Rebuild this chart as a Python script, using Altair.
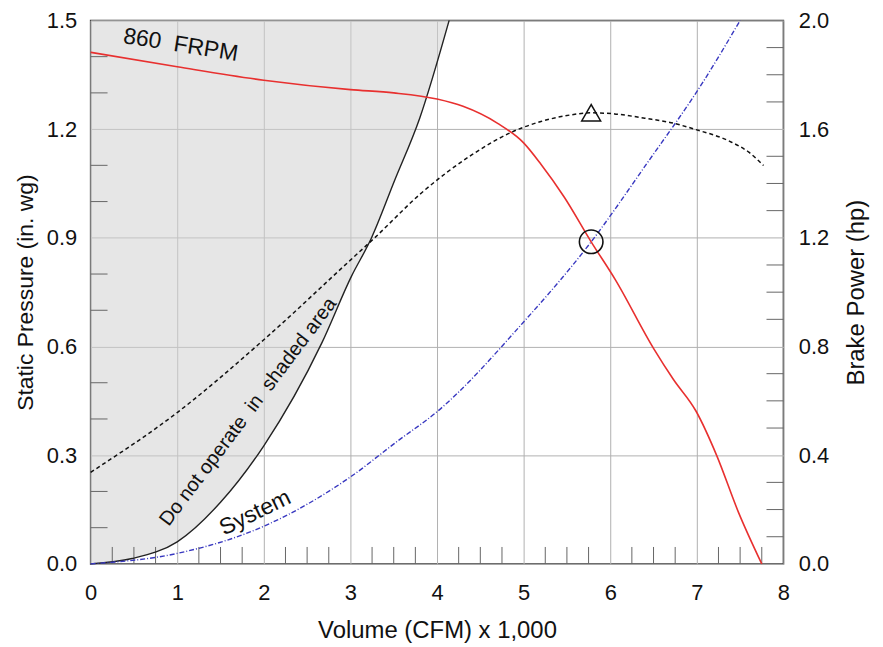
import altair as alt
import pandas as pd

# ---------------- data ----------------
# Fan curve, 860 FRPM (static pressure, in. wg) vs volume (CFM x 1,000)
fan_x = [0.0, 1.0, 2.0, 3.0, 3.5, 4.0, 4.3, 4.7, 5.0, 5.2, 5.47, 5.78, 6.06, 6.5, 6.73, 6.99, 7.23, 7.48, 7.75]
fan_sp = [1.412, 1.372, 1.335, 1.309, 1.300, 1.283, 1.263, 1.216, 1.162, 1.103, 1.012, 0.889, 0.784, 0.595, 0.509, 0.422, 0.299, 0.143, 0.0]

# Brake power (hp) vs volume
bhp_x = [0.0, 1.0, 2.0, 3.0, 3.28, 3.82, 4.4, 4.87, 5.2, 5.54, 5.78, 6.05, 6.4, 6.74, 6.97, 7.38, 7.6, 7.77]
bhp_hp = [0.337, 0.557, 0.825, 1.118, 1.20, 1.365, 1.505, 1.590, 1.628, 1.652, 1.660, 1.656, 1.64, 1.621, 1.60, 1.555, 1.515, 1.466]

# System curve (static pressure, in. wg)
sys_x = [0.0, 1.0, 2.0, 3.0, 3.55, 3.99, 4.99, 5.78, 6.42, 7.08, 7.5]
sys_sp = [0.0, 0.029, 0.104, 0.24, 0.34, 0.418, 0.665, 0.889, 1.104, 1.333, 1.5]

# Boundary of the "do not operate" shaded region (in. wg)
bnd_x = [0.0, 0.48, 1.0, 1.5, 2.0, 2.67, 3.01, 3.24, 3.51, 3.8, 4.14]
bnd_sp = [0.0, 0.015, 0.061, 0.17, 0.326, 0.61, 0.793, 0.898, 1.058, 1.23, 1.5]

# Operating point markers
op_x = [5.78]
op_sp = [0.889]
op_hp = [1.660]

# Axes
x_ticks = [0, 1, 2, 3, 4, 5, 6, 7, 8]
sp_ticks = [0.0, 0.3, 0.6, 0.9, 1.2, 1.5]
hp_ticks = [0.0, 0.4, 0.8, 1.2, 1.6, 2.0]
x_minor = [0.25, 0.5, 0.75, 1.25, 1.5, 1.75, 2.25, 2.5, 2.75, 3.25, 3.5, 3.75,
           4.25, 4.5, 4.75, 5.25, 5.5, 5.75, 6.25, 6.5, 6.75, 7.25, 7.5, 7.75]
sp_minor = [0.1, 0.2, 0.4, 0.5, 0.7, 0.8, 1.0, 1.1, 1.3, 1.4]
hp_minor = [0.1, 0.2, 0.3, 0.5, 0.6, 0.7, 0.9, 1.0, 1.1, 1.3, 1.4, 1.5, 1.7, 1.8, 1.9]

# Annotations
lbl_fan = ["860\u00a0 FRPM"]
lbl_fan_x, lbl_fan_y = [1.04], [1.432]
lbl_bnd = ["Do not operate\u00a0 in\u00a0 shaded area"]
lbl_bnd_x, lbl_bnd_y = [1.82], [0.42]
lbl_sys = ["System"]
lbl_sys_x, lbl_sys_y = [1.90], [0.141]

# ---------------- chart ----------------
W, H = 696, 546
FONT = "Liberation Sans"
SP_MAX, HP_MAX = 1.5, 2.0

xs = alt.Scale(domain=[0, 8], nice=False, zero=False)
sps = alt.Scale(domain=[0, SP_MAX], nice=False)
hps = alt.Scale(domain=[0, HP_MAX], nice=False)

fan_df = pd.DataFrame({"x": fan_x, "y": fan_sp})
bhp_df = pd.DataFrame({"x": bhp_x, "y": bhp_hp})
sys_df = pd.DataFrame({"x": sys_x, "y": sys_sp})
bnd_df = pd.DataFrame({"x": bnd_x, "y": bnd_sp})

x_axis = alt.Axis(values=x_ticks, format="d", title="Volume (CFM) x 1,000", grid=True,
                  gridColor="#b0b0b0", gridWidth=1, ticks=False, tickSize=0,
                  domain=False, labelFlush=False, labelFont=FONT, labelFontSize=22,
                  labelColor="#111", labelPadding=19, titleFont=FONT, titleFontSize=24,
                  titleFontWeight="normal", titleColor="#111", titlePadding=15)
sp_axis = alt.Axis(orient="left", values=sp_ticks, format=".1f",
                   title="Static Pressure (in. wg)", grid=True, gridColor="#b0b0b0",
                   gridWidth=1, ticks=False, tickSize=0, domain=False, labelFlush=False,
                   labelFont=FONT, labelFontSize=22, labelColor="#111", labelPadding=14,
                   titleFont=FONT, titleFontSize=23, titleFontWeight="normal",
                   titleColor="#111", titlePadding=9)
hp_axis = alt.Axis(orient="right", values=hp_ticks, format=".1f",
                   title="Brake Power (hp)", grid=False, ticks=False, tickSize=0,
                   domain=False, labelFlush=False, labelFont=FONT, labelFontSize=22,
                   labelColor="#111", labelPadding=15, titleFont=FONT, titleFontSize=24,
                   titleFontWeight="normal", titleColor="#111", titleAngle=270,
                   titleBaseline="top", titlePadding=16)

X = alt.X("x:Q", scale=xs)
Ysp = alt.Y("y:Q", scale=sps)
Yhp = alt.Y("y:Q", scale=hps)

shade = alt.Chart(bnd_df).mark_area(color="#d2d2d2", opacity=0.55,
                                    interpolate="monotone").encode(
    x=alt.X("x:Q", scale=xs, axis=x_axis),
    y=alt.Y("y:Q", scale=sps, axis=sp_axis),
    y2=alt.datum(SP_MAX),
)
bnd_line = alt.Chart(bnd_df).mark_line(color="#222", strokeWidth=1.4,
                                       interpolate="monotone").encode(x=X, y=Ysp)
sys_line = alt.Chart(sys_df).mark_line(color="#3838c0", strokeWidth=1.4,
                                       strokeDash=[5, 2, 1, 2],
                                       interpolate="monotone").encode(x=X, y=Ysp)
fan_line = alt.Chart(fan_df).mark_line(color="#e8302f", strokeWidth=1.6,
                                       interpolate="monotone").encode(x=X, y=Ysp)
op_circle = alt.Chart(pd.DataFrame({"x": op_x, "y": op_sp})).mark_point(
    shape="circle", filled=False, size=560, color="#111", strokeWidth=1.6,
    opacity=1).encode(x=X, y=Ysp)

def label(texts, xv, yv, angle, size):
    return alt.Chart(pd.DataFrame({"t": texts, "x": xv, "y": yv})).mark_text(
        angle=angle, fontSize=size, font=FONT, color="#111", align="center",
        baseline="middle").encode(x=X, y=Ysp, text="t:N")

t_fan = label(lbl_fan, lbl_fan_x, lbl_fan_y, 9, 23)
t_bnd = label(lbl_bnd, lbl_bnd_x, lbl_bnd_y, 307, 20)
t_sys = label(lbl_sys, lbl_sys_x, lbl_sys_y, 334, 23)

minor_left = alt.Chart(pd.DataFrame({"y": sp_minor})).mark_rule(
    color="#666", strokeWidth=1).encode(y=Ysp, x=alt.value(0), x2=alt.value(17))
minor_bottom = alt.Chart(pd.DataFrame({"x": x_minor})).mark_rule(
    color="#666", strokeWidth=1).encode(x=X, y=alt.value(H), y2=alt.value(H - 17))

left_group = alt.layer(shade, minor_left, minor_bottom, bnd_line, sys_line,
                       fan_line, op_circle, t_fan, t_bnd, t_sys)

bhp_line = alt.Chart(bhp_df).mark_line(color="#111", strokeWidth=1.5,
                                       strokeDash=[4, 3],
                                       interpolate="monotone").encode(
    x=alt.X("x:Q", scale=xs, axis=x_axis),
    y=alt.Y("y:Q", scale=hps, axis=hp_axis))
op_tri = alt.Chart(pd.DataFrame({"x": op_x, "y": op_hp})).mark_point(
    shape="triangle-up", filled=False, size=361, color="#111",
    strokeWidth=1.5, opacity=1).encode(x=X, y=Yhp)
minor_right = alt.Chart(pd.DataFrame({"y": hp_minor})).mark_rule(
    color="#666", strokeWidth=1).encode(y=Yhp, x=alt.value(W - 17), x2=alt.value(W))

right_group = alt.layer(bhp_line, minor_right, op_tri)

chart = alt.layer(left_group, right_group).resolve_scale(
    y="independent").properties(
    width=W, height=H,
    autosize=alt.AutoSizeParams(type="none"),
    padding={"left": 83, "top": 11, "right": 92, "bottom": 80},
    background="white",
).configure_view(stroke="#333", strokeWidth=1.5)

chart.save("out.html", embed_options={"renderer": "svg", "actions": False})
